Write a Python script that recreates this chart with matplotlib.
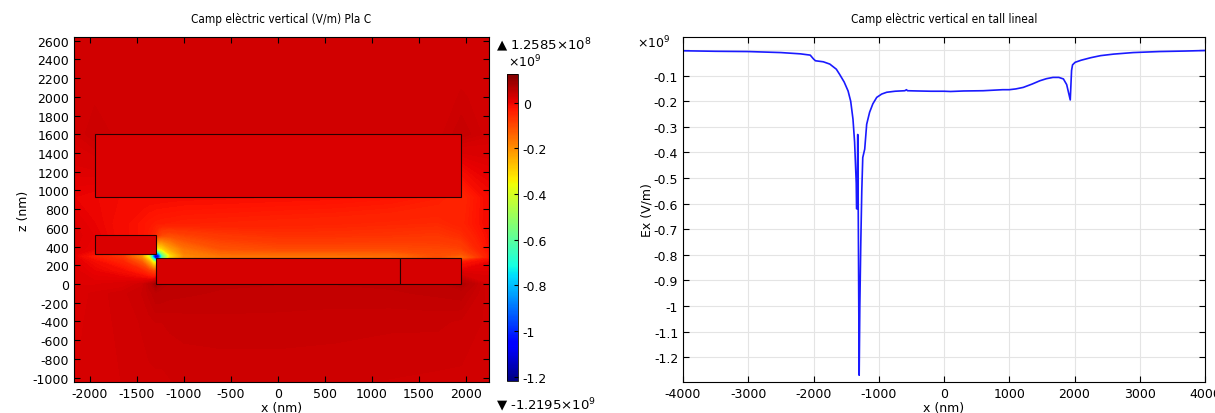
import matplotlib
matplotlib.use("Agg")
import matplotlib.pyplot as plt
import numpy as np
from matplotlib.colors import Normalize
from matplotlib.cm import ScalarMappable
from matplotlib.patches import Rectangle

# --- field on plane C (values in 1e9 V/m) ---
field_x = [-2170, -1950, -1650, -1450, -1370, -1330, -1300, -1270, -1230,
           -1150, -1000, -600, 0, 600, 1200, 1700, 1950, 2250]
field_z = [-1050, -400, -100, 0, 140, 230, 280, 300, 320, 380, 520, 650,
           930, 1600, 2000, 2640]
field_ex = [
    [0.022, 0.025, 0.027, 0.029, 0.030, 0.030, 0.030, 0.030, 0.030, 0.031, 0.032, 0.032, 0.032, 0.032, 0.031, 0.030, 0.030, 0.028],
    [0.020, 0.025, 0.028, 0.032, 0.034, 0.035, 0.036, 0.036, 0.036, 0.037, 0.038, 0.039, 0.039, 0.038, 0.037, 0.037, 0.035, 0.030],
    [0.018, 0.024, 0.030, 0.036, 0.042, 0.046, 0.050, 0.050, 0.049, 0.047, 0.046, 0.044, 0.043, 0.043, 0.044, 0.046, 0.048, 0.028],
    [0.012, 0.012, 0.018, 0.030, 0.048, 0.062, 0.080, 0.066, 0.058, 0.052, 0.048, 0.046, 0.045, 0.045, 0.046, 0.050, 0.065, 0.022],
    [0.012, 0.000, -0.015, -0.045, -0.080, -0.100, -0.110, 0.020, 0.020, 0.020, 0.020, 0.020, 0.020, 0.020, 0.020, 0.020, 0.005, 0.008],
    [0.010, -0.010, -0.045, -0.120, -0.230, -0.330, -0.380, 0.020, 0.020, 0.020, 0.020, 0.020, 0.020, 0.020, 0.020, 0.020, -0.030, 0.000],
    [0.008, -0.030, -0.070, -0.190, -0.360, -0.750, -1.150, -1.000, -0.600, -0.300, -0.190, -0.165, -0.160, -0.160, -0.150, -0.110, -0.150, -0.030],
    [0.005, -0.040, -0.080, -0.210, -0.450, -0.950, -1.215, -1.100, -0.650, -0.330, -0.195, -0.162, -0.160, -0.160, -0.150, -0.108, -0.140, -0.030],
    [0.006, -0.020, -0.060, -0.190, -0.360, -0.700, -1.050, -0.900, -0.550, -0.300, -0.185, -0.150, -0.145, -0.145, -0.140, -0.105, -0.120, -0.030],
    [0.010, 0.000, -0.030, -0.050, -0.100, -0.150, -0.330, -0.330, -0.300, -0.230, -0.160, -0.112, -0.100, -0.100, -0.100, -0.095, -0.090, -0.020],
    [0.012, 0.004, -0.015, -0.025, -0.035, -0.045, -0.065, -0.085, -0.100, -0.105, -0.092, -0.075, -0.065, -0.065, -0.068, -0.072, -0.060, -0.015],
    [0.010, 0.000, -0.015, -0.025, -0.030, -0.032, -0.034, -0.035, -0.036, -0.037, -0.040, -0.042, -0.045, -0.048, -0.052, -0.055, -0.045, -0.010],
    [0.000, -0.004, -0.010, -0.012, -0.013, -0.013, -0.013, -0.013, -0.013, -0.014, -0.015, -0.016, -0.018, -0.020, -0.025, -0.035, -0.050, -0.010],
    [0.026, 0.036, 0.028, 0.027, 0.027, 0.027, 0.027, 0.027, 0.027, 0.027, 0.027, 0.027, 0.027, 0.027, 0.027, 0.029, 0.040, 0.028],
    [0.028, 0.030, 0.028, 0.027, 0.027, 0.027, 0.027, 0.027, 0.027, 0.027, 0.027, 0.027, 0.027, 0.027, 0.027, 0.028, 0.032, 0.029],
    [0.027, 0.027, 0.027, 0.027, 0.027, 0.027, 0.027, 0.027, 0.027, 0.027, 0.027, 0.027, 0.027, 0.027, 0.027, 0.027, 0.027, 0.027],
]
ex_min, ex_max = -1.2195, 0.12585

# geometry blocks: x0, z0, width, height, field inside
blocks_x = [-1950, -1950, -1300, 1300]
blocks_z = [930, 320, 0, 0]
blocks_w = [3900, 650, 2600, 650]
blocks_h = [670, 200, 280, 280]
blocks_ex = [0.020, 0.018, 0.022, 0.022]

# --- line cut (x in nm, Ex in 1e9 V/m) ---
cut_x = [-4000, -3500, -3000, -2500, -2200, -2050, -2000, -1970, -1850, -1750,
         -1650, -1600, -1530, -1470, -1430, -1395, -1370, -1345, -1340, -1330,
         -1322, -1316, -1300, -1290, -1275, -1260, -1245, -1215, -1185, -1140,
         -1090, -1031, -955, -878, -750, -600, -575, -560, -400, -200, 0, 100,
         300, 600, 900, 1000, 1100, 1215, 1350, 1470, 1570, 1670, 1760, 1830,
         1880, 1935, 1955, 1970, 2010, 2100, 2250, 2400, 2600, 2900, 3300, 3700, 4000]
cut_ex = [-0.003, -0.005, -0.006, -0.010, -0.015, -0.020, -0.035, -0.042, -0.046, -0.055,
          -0.075, -0.095, -0.125, -0.160, -0.200, -0.270, -0.360, -0.520, -0.620, -0.620,
          -0.330, -0.550, -1.270, -1.000, -0.750, -0.550, -0.420, -0.387, -0.290, -0.243,
          -0.210, -0.185, -0.172, -0.165, -0.161, -0.159, -0.155, -0.159, -0.160, -0.161, -0.161, -0.162,
          -0.160, -0.159, -0.155, -0.155, -0.152, -0.146, -0.133, -0.120, -0.112, -0.107, -0.107, -0.113,
          -0.135, -0.195, -0.080, -0.058, -0.048, -0.040, -0.030, -0.022, -0.016, -0.010, -0.006, -0.004, -0.002]

plt.rcParams["font.family"] = ["DejaVu Sans"]
plt.rcParams["font.size"] = 9
plt.rcParams["axes.unicode_minus"] = False

fig = plt.figure(figsize=(12.15, 4.14), dpi=100)
W, H = 1215.0, 414.0


def box(l, t, r, b):
    return [l / W, 1 - b / H, (r - l) / W, (b - t) / H]


cmap = plt.get_cmap("jet")
norm = Normalize(vmin=ex_min, vmax=ex_max)

# ---------------- left: colour map ----------------
ax1 = fig.add_axes(box(74, 38, 489, 383))
levels = np.linspace(ex_min, ex_max, 300)
ax1.contourf(field_x, field_z, np.array(field_ex), levels=levels, cmap=cmap,
             norm=norm, extend="both", antialiased=False)
for bx, bz, bw, bh, be in zip(blocks_x, blocks_z, blocks_w, blocks_h, blocks_ex):
    ax1.add_patch(Rectangle((bx, bz), bw, bh, facecolor=cmap(norm(be)),
                            edgecolor="#2a0000", linewidth=0.8, zorder=3))
ax1.set_xlim(-2170, 2245)
ax1.set_ylim(-1047, 2640)
ax1.set_xticks(np.arange(-2000, 2001, 500))
ax1.set_yticks(np.arange(-1000, 2601, 200))
ax1.tick_params(direction="in", top=True, right=True, length=4, labelsize=9)
ax1.set_xlabel("x (nm)", fontsize=9, labelpad=1)
ax1.set_ylabel("z (nm)", fontsize=9, labelpad=2)
ax1.set_title("Camp elèctric vertical (V/m) Pla C", fontsize=8.5, pad=11,
              fontstretch="condensed")

cax = fig.add_axes(box(507, 75, 518, 382))
cb = fig.colorbar(ScalarMappable(norm=norm, cmap=cmap), cax=cax)
cb.set_ticks([0, -0.2, -0.4, -0.6, -0.8, -1.0, -1.2])
cb.set_ticklabels(["0", "-0.2", "-0.4", "-0.6", "-0.8", "-1", "-1.2"])
cb.ax.tick_params(labelsize=9, length=3, direction="in")
cb.outline.set_linewidth(0.6)
fig.text(496 / W, 1 - 45 / H, "\u25b2 1.2585$\\times$10$^8$", fontsize=9.5,
         va="center", ha="left")
fig.text(508 / W, 1 - 62 / H, "$\\times$10$^9$", fontsize=9, va="center", ha="left")
fig.text(496 / W, 1 - 405 / H, "\u25bc -1.2195$\\times$10$^9$", fontsize=9.5,
         va="center", ha="left")

# ---------------- right: line cut ----------------
ax2 = fig.add_axes(box(683, 38, 1205, 383))
ax2.plot(cut_x, cut_ex, color="#1a1aff", linewidth=1.2)
ax2.set_xlim(-4000, 4000)
ax2.set_ylim(-1.2965, 0.0508)
ax2.set_xticks(np.arange(-4000, 4001, 1000))
yt = np.round(np.arange(-1.2, 0.001, 0.1), 1)
ax2.set_yticks(yt)
ax2.set_yticklabels(["%g" % v if v < 0 else "" for v in yt])
ax2.grid(True, color="#e4e4e4", linewidth=0.8)
ax2.set_axisbelow(True)
ax2.tick_params(direction="in", top=True, right=True, length=4, labelsize=9)
ax2.set_xlabel("x (nm)", fontsize=9, labelpad=1)
ax2.set_ylabel("Ex (V/m)", fontsize=9, labelpad=0)
ax2.set_title("Camp elèctric vertical en tall lineal", fontsize=8.5, pad=11,
              fontstretch="condensed")
fig.text(637 / W, 1 - 43 / H, "$\\times$10$^9$", fontsize=9, va="center", ha="left")

fig.savefig("out.png", dpi=100)
